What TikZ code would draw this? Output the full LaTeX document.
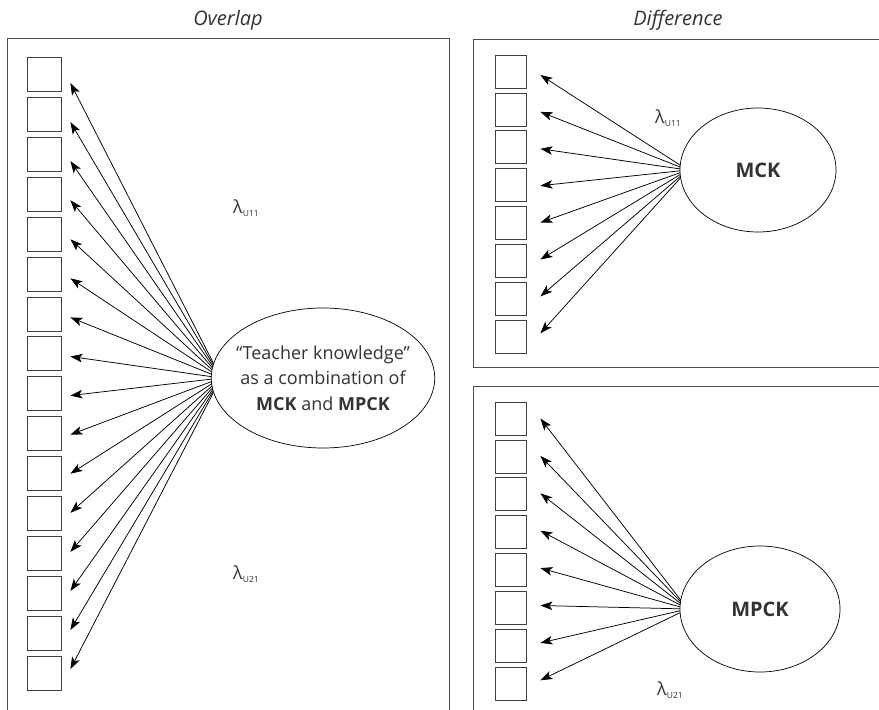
\documentclass[tikz,border=0pt]{standalone}
\usepackage{fontspec}
\setmainfont{Open Sans}
\usetikzlibrary{arrows.meta,calc,backgrounds,shapes.geometric}

\definecolor{inkgray}{HTML}{333333}

% loading label with small subscript
\newcommand{\lam}[1]{λ\raisebox{-3.5pt}{\fontsize{8.5}{8.5}\selectfont #1}}

\begin{document}
\begin{tikzpicture}[x=1pt,y=-1pt,
  item/.style={draw=black!75,line width=0.8pt,minimum width=34pt,minimum height=34pt,inner sep=0pt},
  ritem/.style={item,minimum width=31pt,minimum height=33pt},
  frame/.style={draw=black!70,line width=1pt},
  latent/.style={ellipse,draw=black,line width=0.7pt,fill=white,text=inkgray,align=center,
    font=\fontsize{17.5}{25}\selectfont,inner sep=0pt},
  load/.style={-{Stealth[length=12pt,width=8.5pt,inset=3pt]},line width=0.75pt},
  heading/.style={text=inkgray,font=\fontsize{20}{24}\selectfont\itshape},
  coef/.style={text=inkgray,font=\fontsize{18}{18}\selectfont}]
\useasboundingbox (0,0) rectangle (879,710);
\begin{pgfonlayer}{background}
\fill[white] (0,0) rectangle (879,710);
\end{pgfonlayer}

% titles
\node[heading] (tOverlap) at (228,20) {Overlap};
\node[heading] (tDiff) at (678,20) {Difference};

% frames
\draw[frame] (7,710) -- (7,38) -- (449,38) -- (449,710);
\draw[frame] (879,39) -- (473,39) -- (473,367) -- (879,367);
\draw[frame] (879,386) -- (473,386) -- (473,710);

% overlap model
\foreach \i in {1,...,16}
  \node[item] (o\i) at (44,{74.5+39.9*(\i-1)}) {};
\node[latent,inner sep=-8pt,minimum width=215pt,minimum height=140pt,
  font=\fontsize{18}{25.5}\selectfont] (tk) at (323,378)
  {“Teacher knowledge”\\as a combination of\\\textbf{MCK} and \textbf{MPCK}};
\begin{pgfonlayer}{background}
\foreach \i in {1,...,16}
  \draw[load] ($(tk.west)+(10,0)$) -- ($(o\i.east)+(9,{8.5-0.83*(\i-1)})$);
\end{pgfonlayer}
\node[coef] (lo11) at (246,208) {\lam{U11}};
\node[coef] (lo21) at (246,574) {\lam{U21}};

% difference model, MCK
\foreach \i in {1,...,8}
  \node[ritem] (m\i) at (510.5,{71.5+37.9*(\i-1)}) {};
\node[latent,minimum width=156pt,minimum height=124pt,font=\fontsize{20}{24}\selectfont]
  (mck) at (758,170) {\textbf{MCK}};
\begin{pgfonlayer}{background}
\foreach \i in {1,...,8}
  \draw[load] ($(mck.west)+(8,0)$) -- ($(m\i.east)+(14,{3.5-1*(\i-1)})$);
\end{pgfonlayer}
\node[coef] (lm11) at (668,118) {\lam{U11}};

% difference model, MPCK
\foreach \i in {1,...,8}
  \node[ritem] (p\i) at (510.5,{418.5+37.9*(\i-1)}) {};
\node[latent,minimum width=160pt,minimum height=126pt,font=\fontsize{20}{24}\selectfont]
  (mpck) at (760,609) {\textbf{MPCK}};
\begin{pgfonlayer}{background}
\foreach \i in {1,...,8}
  \draw[load] ($(mpck.west)+(8,0)$) -- ($(p\i.east)+(14,{0-0.5*(\i-1)})$);
\end{pgfonlayer}
\node[coef] (lp21) at (670,690) {\lam{U21}};
\end{tikzpicture}
\end{document}
